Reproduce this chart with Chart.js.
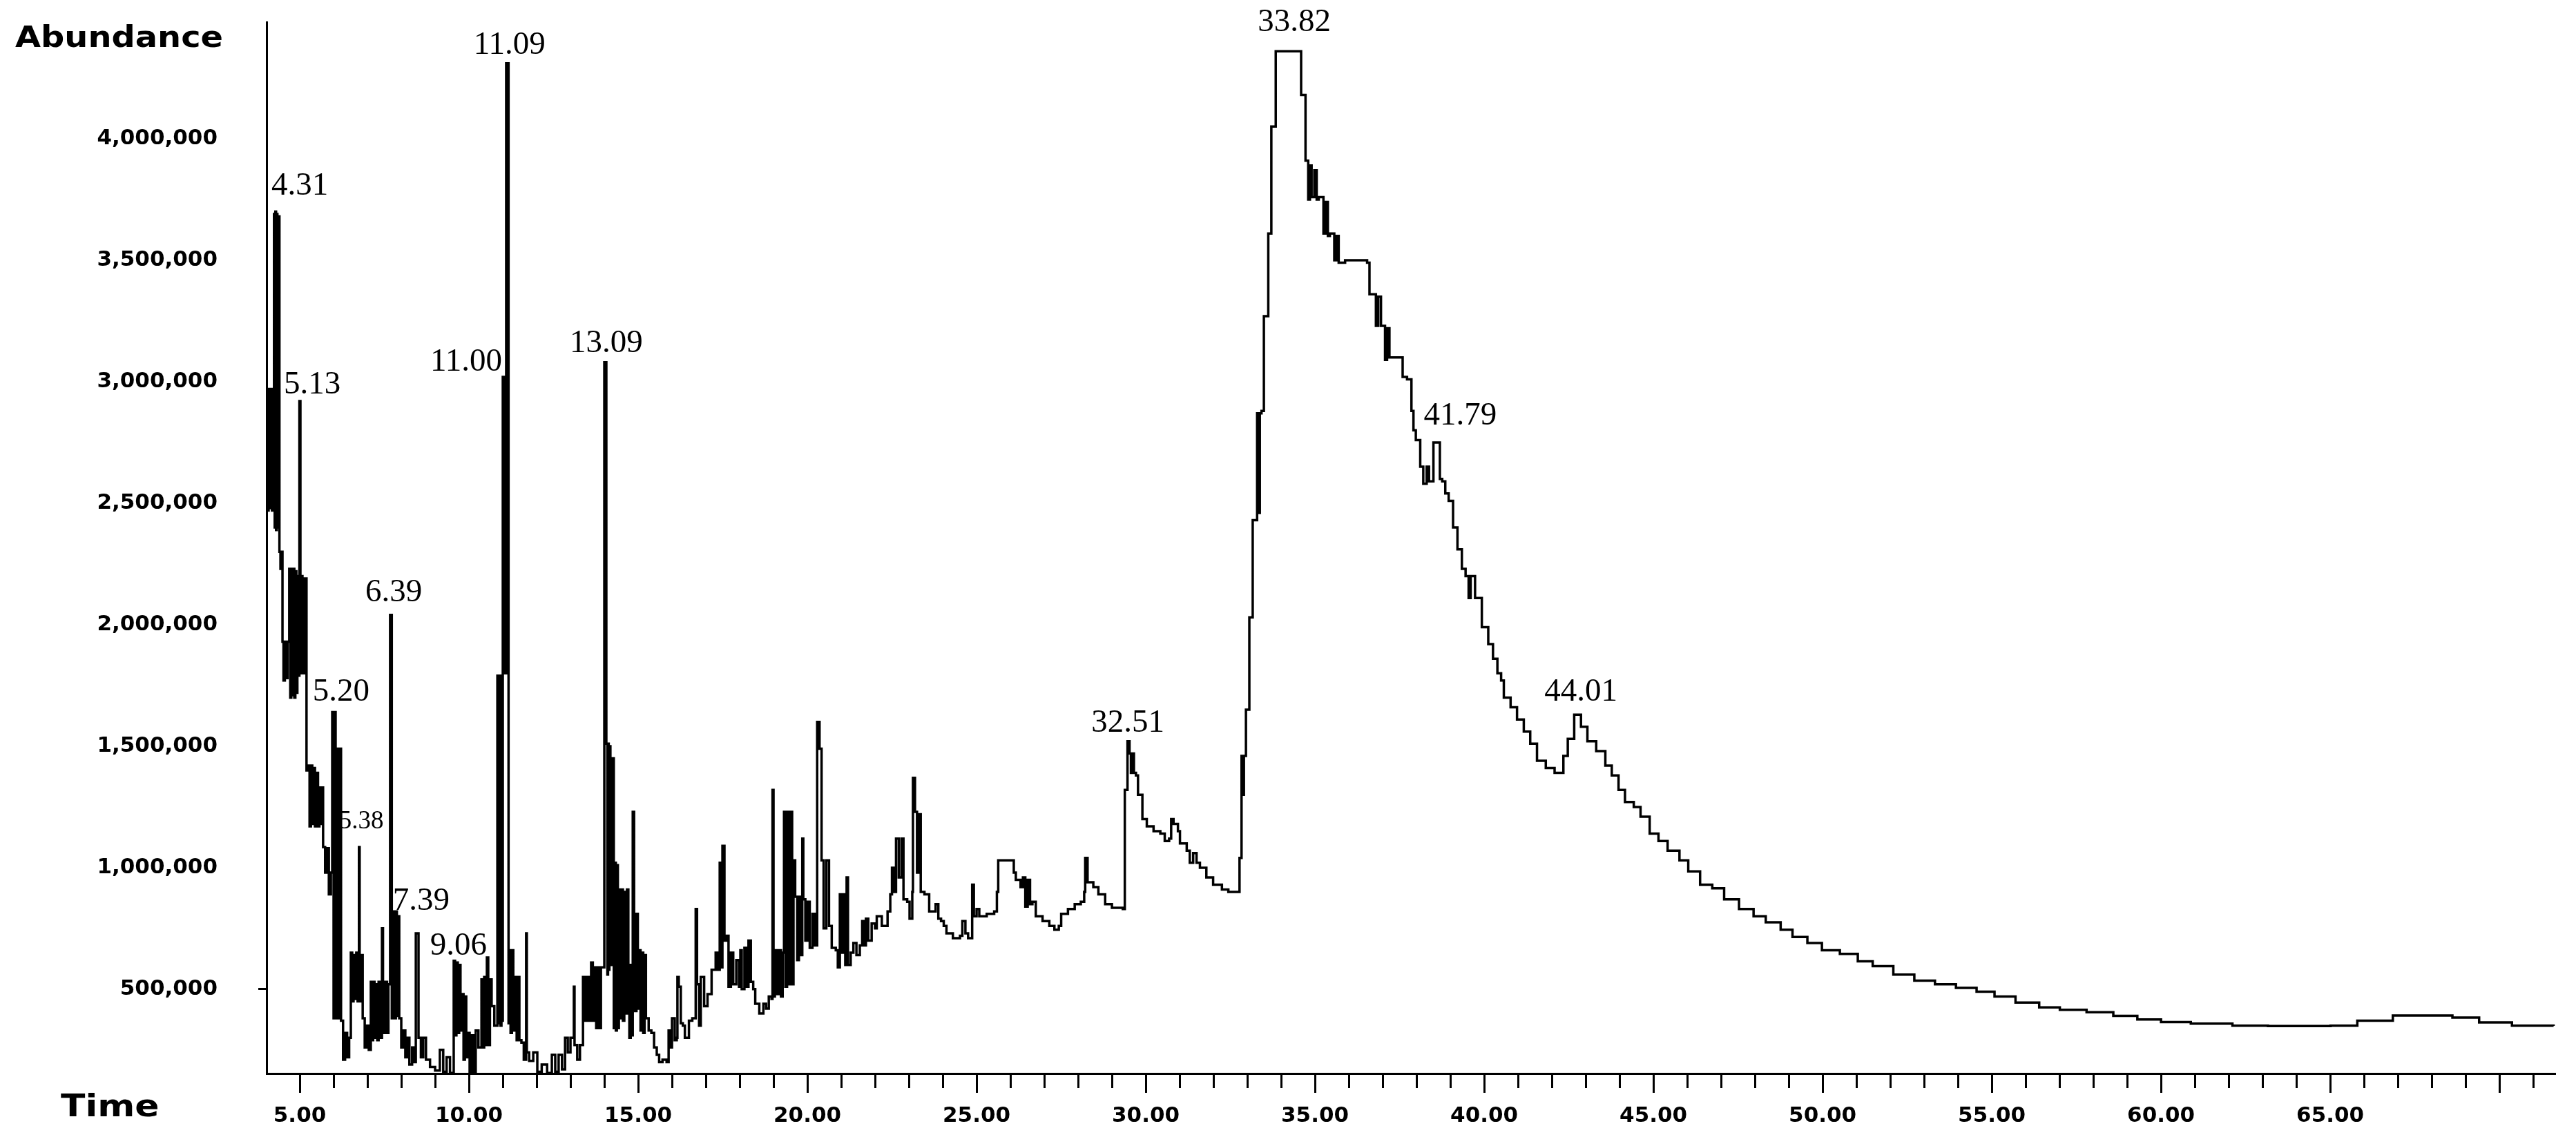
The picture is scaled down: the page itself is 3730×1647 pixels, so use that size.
<!DOCTYPE html>
<html>
<head>
<meta charset="utf-8">
<script src="https://cdn.jsdelivr.net/npm/chart.js@4.4.1/dist/chart.umd.min.js"></script>
<style>
html,body{margin:0;padding:0;background:#fff;}
#wrap{width:3730px;height:1647px;position:relative;}
</style>
</head>
<body>
<div id="wrap"><canvas id="c"></canvas></div>
<script>
// Retention time (min)
const retentionTime = [
4.02,4.04,4.06,4.08,4.10,4.12,4.14,4.16,4.18,4.20,
4.22,4.24,4.26,4.28,4.30,4.32,4.34,4.37,4.40,4.43,
4.46,4.49,4.52,4.56,4.60,4.64,4.69,4.72,4.75,4.78,
4.81,4.84,4.87,4.90,4.93,4.96,4.99,5.02,5.05,5.08,
5.11,5.14,5.17,5.20,5.24,5.29,5.33,5.37,5.41,5.45,
5.51,5.54,5.58,5.62,5.66,5.69,5.75,5.80,5.86,5.92,
5.96,6.00,6.03,6.06,6.10,6.14,6.18,
6.22,6.28,6.34,6.40,6.46,6.51,6.55,6.59,
6.63,6.67,6.71,6.75,6.77,6.81,6.86,6.92,6.98,7.04,
7.10,7.13,7.17,7.21,7.25,7.29,7.33,7.37,7.43,7.46,
7.50,7.54,7.58,7.62,7.67,7.72,7.78,7.81,7.84,7.87,7.90,
7.94,8.00,8.06,8.12,8.18,8.24,8.32,8.39,8.43,8.51,
8.58,8.65,8.73,8.85,9.00,9.14,9.24,9.34,9.44,9.55,
9.59,9.63,9.67,9.71,9.75,9.80,9.84,9.88,9.92,9.96,
10.02,10.08,10.14,10.20,10.28,10.37,10.41,10.45,10.49,10.53,
10.57,10.62,10.67,10.75,10.84,10.87,10.90,10.93,10.96,10.99,
11.00,11.03,11.05,11.08,11.10,11.17,11.19,11.23,11.27,11.31,11.37,11.41,11.45,11.49,
11.55,11.62,11.69,11.71,11.78,11.90,12.02,12.15,12.31,12.45,
12.55,12.65,12.75,12.84,12.92,13.00,13.10,13.12,13.20,13.28,
13.37,13.41,13.45,13.49,13.53,13.57,13.61,13.66,13.71,13.76,
13.81,13.86,13.90,14.00,14.06,14.09,14.11,14.13,14.15,14.18,
14.20,14.23,14.26,14.28,14.31,14.34,14.37,14.40,14.43,14.47,
14.51,14.55,14.59,14.63,14.67,14.71,14.74,14.78,14.81,14.84,
14.88,14.91,14.95,14.99,15.03,15.07,15.11,15.15,15.19,15.23,
15.31,15.39,15.47,15.55,15.62,15.72,15.84,15.90,15.95,16.00,
16.08,16.14,16.16,16.20,16.26,16.32,16.38,16.50,16.60,16.70,
16.74,16.80,16.85,16.95,17.05,17.17,17.29,17.35,17.41,17.45,
17.49,17.55,17.61,17.67,17.74,17.81,17.90,17.98,18.02,18.06,
18.14,18.20,18.26,18.33,18.40,18.46,18.58,18.70,18.78,18.86,
18.94,18.97,19.00,19.04,19.10,19.16,19.22,19.27,19.31,19.35,
19.40,19.45,19.50,19.55,19.59,19.64,19.70,19.75,19.80,19.85,
19.88,19.94,20.00,20.07,20.15,20.22,20.29,20.36,20.42,20.48,
20.56,20.64,20.72,20.84,20.90,20.96,21.01,21.06,21.12,21.16,
21.20,21.28,21.36,21.45,21.55,21.62,21.68,21.73,21.80,21.90,
22.00,22.05,22.20,22.37,22.45,22.50,22.57,22.62,22.70,22.78,
22.84,22.95,23.02,23.10,23.12,23.18,23.24,23.30,23.35,23.46,
23.60,23.79,23.87,23.95,24.03,24.11,24.30,24.51,24.58,24.67,
24.75,24.87,24.92,25.00,25.08,25.30,25.52,25.60,25.64,25.90,
26.10,26.16,26.30,26.37,26.44,26.51,26.58,26.65,26.75,26.95,
27.15,27.30,27.43,27.50,27.70,27.90,28.08,28.18,28.21,28.28,
28.45,28.60,28.80,29.00,29.32,29.38,29.46,29.52,29.56,29.60,
29.65,29.71,29.77,29.90,30.03,30.23,30.43,30.56,30.69,30.75,
30.82,30.95,31.01,31.21,31.30,31.40,31.50,31.60,31.79,31.99,
32.25,32.44,32.64,32.77,32.83,32.86,32.90,32.96,33.06,33.16,
33.29,33.33,33.37,33.42,33.49,33.62,33.71,33.84,34.59,34.72,
34.80,34.85,34.90,34.98,35.05,35.11,35.25,35.31,35.38,35.44,
35.57,35.63,35.70,35.89,36.54,36.61,36.74,36.80,36.87,36.95,
37.07,37.13,37.20,37.39,37.59,37.72,37.85,37.91,37.98,38.11,
38.20,38.30,38.37,38.50,38.59,38.69,38.76,38.85,38.95,39.08,
39.21,39.34,39.45,39.54,39.60,39.73,39.93,40.12,40.26,40.39,
40.50,40.58,40.78,40.97,41.17,41.36,41.56,41.82,42.08,42.34,
42.47,42.66,42.86,43.05,43.31,43.58,43.77,43.97,44.16,44.42,
44.62,44.89,45.15,45.42,45.77,46.03,46.38,46.74,47.09,47.53,
47.96,48.32,48.76,49.11,49.55,49.98,50.51,51.04,51.48,52.09,
52.71,53.32,53.94,54.55,55.08,55.70,56.40,57.01,57.80,58.59,
59.30,60.00,60.88,62.11,63.16,65.01,65.80,66.85,67.56,68.61,
69.40,70.37,71.60
];

// Abundance (counts)
const abundance = [
2480e3,2960e3,2470e3,2970e3,2480e3,2960e3,2490e3,2970e3,2470e3,2960e3,
2480e3,3690e3,2400e3,3700e3,2390e3,3690e3,2400e3,3680e3,2300e3,2230e3,
2300e3,1930e3,1770e3,1930e3,1780e3,1930e3,2230e3,1700e3,2230e3,1710e3,
2230e3,1700e3,2220e3,1720e3,2200e3,1790e3,2920e3,1800e3,2200e3,1800e3,
2190e3,1800e3,2190e3,1400e3,1420e3,1170e3,1420e3,1180e3,1410e3,1170e3,
1390e3,1170e3,1330e3,1180e3,1330e3,1085e3,980e3,1080e3,890e3,980e3,
1640e3,380e3,1640e3,380e3,1490e3,380e3,1490e3,
370e3,210e3,320e3,220e3,300e3,650e3,450e3,640e3,
460e3,650e3,450e3,1085e3,450e3,640e3,380e3,260e3,350e3,250e3,
530e3,290e3,530e3,300e3,520e3,290e3,530e3,300e3,750e3,530e3,
320e3,530e3,320e3,520e3,2040e3,380e3,820e3,380e3,820e3,390e3,800e3,
380e3,260e3,330e3,220e3,300e3,190e3,260e3,200e3,730e3,300e3,
220e3,300e3,210e3,180e3,165e3,250e3,160e3,220e3,155e3,617e3,
310e3,610e3,320e3,600e3,330e3,480e3,210e3,470e3,220e3,320e3,
155e3,310e3,160e3,330e3,260e3,540e3,260e3,550e3,270e3,630e3,
270e3,540e3,430e3,350e3,1790e3,360e3,1790e3,350e3,1790e3,370e3,
3020e3,1800e3,3020e3,1800e3,4310e3,360e3,660e3,320e3,660e3,330e3,550e3,290e3,550e3,290e3,
280e3,210e3,730e3,240e3,205e3,240e3,160e3,190e3,155e3,230e3,
160e3,230e3,170e3,300e3,240e3,300e3,510e3,270e3,210e3,270e3,
550e3,370e3,550e3,370e3,550e3,370e3,610e3,370e3,590e3,340e3,
590e3,340e3,590e3,3080e3,1510e3,560e3,1510e3,580e3,1500e3,600e3,
1450e3,600e3,1450e3,340e3,1020e3,330e3,1010e3,340e3,910e3,380e3,
910e3,370e3,900e3,400e3,910e3,600e3,300e3,600e3,310e3,1230e3,
800e3,410e3,810e3,420e3,660e3,330e3,650e3,320e3,640e3,380e3,
330e3,320e3,260e3,230e3,200e3,210e3,200e3,330e3,260e3,380e3,
290e3,300e3,550e3,510e3,360e3,350e3,300e3,370e3,380e3,830e3,
520e3,350e3,550e3,430e3,480e3,580e3,650e3,580e3,1020e3,590e3,
1090e3,700e3,720e3,510e3,650e3,520e3,620e3,510e3,660e3,500e3,
670e3,510e3,700e3,530e3,500e3,440e3,400e3,440e3,420e3,470e3,
460e3,1320e3,470e3,660e3,480e3,660e3,470e3,650e3,1230e3,510e3,
1230e3,520e3,1230e3,520e3,1030e3,880e3,620e3,880e3,640e3,1120e3,
870e3,700e3,860e3,670e3,810e3,680e3,1600e3,1490e3,1030e3,750e3,
1030e3,760e3,670e3,660e3,590e3,890e3,650e3,890e3,600e3,960e3,
600e3,650e3,690e3,640e3,680e3,780e3,680e3,790e3,700e3,770e3,
750e3,800e3,760e3,820e3,890e3,1000e3,900e3,1120e3,960e3,1120e3,
870e3,860e3,790e3,900e3,1370e3,1230e3,980e3,1220e3,900e3,890e3,
820e3,850e3,790e3,780e3,760e3,730e3,710e3,720e3,780e3,730e3,
710e3,930e3,800e3,830e3,800e3,810e3,820e3,900e3,1030e3,1030e3,
980e3,950e3,920e3,960e3,840e3,950e3,850e3,860e3,800e3,780e3,
760e3,745e3,760e3,810e3,830e3,850e3,860e3,900e3,1040e3,940e3,
920e3,890e3,850e3,835e3,830e3,1320e3,1520e3,1470e3,1390e3,1470e3,
1390e3,1380e3,1300e3,1200e3,1170e3,1150e3,1140e3,1110e3,1120e3,1200e3,
1180e3,1150e3,1100e3,1070e3,1020e3,1060e3,1020e3,1000e3,960e3,930e3,
910e3,900e3,900e3,1040e3,1460e3,1300e3,1460e3,1650e3,2030e3,2430e3,
2870e3,2460e3,2870e3,2880e3,3270e3,3610e3,4050e3,4360e3,4180e3,3910e3,
3750e3,3890e3,3760e3,3870e3,3750e3,3760e3,3610e3,3740e3,3600e3,3610e3,
3500e3,3600e3,3490e3,3500e3,3490e3,3360e3,3360e3,3230e3,3350e3,3230e3,
3090e3,3220e3,3100e3,3100e3,3020e3,3010e3,2880e3,2800e3,2760e3,2650e3,
2580e3,2650e3,2590e3,2750e3,2750e3,2600e3,2590e3,2540e3,2510e3,2400e3,
2310e3,2230e3,2200e3,2110e3,2200e3,2110e3,1990e3,1920e3,1860e3,1800e3,
1770e3,1700e3,1660e3,1610e3,1560e3,1510e3,1440e3,1410e3,1390e3,1460e3,
1530e3,1630e3,1580e3,1520e3,1480e3,1420e3,1380e3,1320e3,1270e3,1250e3,
1210e3,1140e3,1110e3,1070e3,1030e3,985e3,930e3,915e3,870e3,830e3,
800e3,775e3,745e3,715e3,690e3,660e3,645e3,615e3,595e3,560e3,
535e3,520e3,505e3,490e3,470e3,445e3,425e3,415e3,405e3,390e3,
375e3,365e3,358e3,350e3,348e3,350e3,370e3,392e3,392e3,383e3,
363e3,350e3,349e3
];

// Peak annotations
const peakLabels = ['4.31','5.13','11.09','11.00','13.09','6.39','5.20','5.38','7.39','9.06','32.51','33.82','41.79','44.01'];
const peakLabelTime = [5.00,5.37,11.20,9.92,14.06,7.78,6.22,6.82,8.59,9.69,29.47,34.39,39.29,42.86];
const peakLabelAbundance = [3804e3,2986e3,4384e3,3080e3,3156e3,2131e3,1722e3,1188e3,861e3,676e3,1594e3,4477e3,2858e3,1722e3];

// Axis ticks
const yTickValues = [500000,1000000,1500000,2000000,2500000,3000000,3500000,4000000];
const xMajorTicks = [5,10,15,20,25,30,35,40,45,50,55,60,65,70];
const xTickLabels = ['5.00','10.00','15.00','20.00','25.00','30.00','35.00','40.00','45.00','50.00','55.00','60.00','65.00'];
const xMinorTicks = [6,7,8,9,11,12,13,14,16,17,18,19,21,22,23,24,26,27,28,29,31,32,33,34,36,37,38,39,41,42,43,44,46,47,48,49,51,52,53,54,56,57,58,59,61,62,63,64,66,67,68,69,71];

const points = retentionTime.map((t, i) => ({ x: t, y: abundance[i] }));

const labelPlugin = {
  id: 'peakLabels',
  beforeDatasetsDraw(chart) {
    const ctx = chart.ctx, xs = chart.scales.x, ys = chart.scales.y;
    ctx.save();
    ctx.fillStyle = '#000';
    ctx.textAlign = 'center';
    ctx.textBaseline = 'middle';
    peakLabels.forEach((txt, i) => {
      const size = txt === '5.38' ? 37 : 47;
      ctx.font = size + 'px "Liberation Serif", "Times New Roman", serif';
      ctx.fillText(txt, xs.getPixelForValue(peakLabelTime[i]), ys.getPixelForValue(peakLabelAbundance[i]));
    });
    ctx.restore();
  },
  afterDraw(chart) {
    const ctx = chart.ctx, xs = chart.scales.x;
    const y0 = chart.chartArea.bottom;
    ctx.save();
    ctx.strokeStyle = '#000';
    ctx.lineWidth = 3;
    ctx.beginPath();
    xMinorTicks.forEach(v => {
      const px = Math.round(xs.getPixelForValue(v)) + 0.5;
      ctx.moveTo(px, y0);
      ctx.lineTo(px, y0 + 21);
    });
    ctx.stroke();
    // axis titles
    ctx.fillStyle = '#000';
    ctx.textBaseline = 'middle';
    ctx.textAlign = 'left';
    ctx.font = 'bold 42px "DejaVu Sans", sans-serif';
    ctx.save(); ctx.translate(22, 57); ctx.scale(1.14, 1); ctx.fillText('Abundance', 0, 0); ctx.restore();
    ctx.font = 'bold 44px "DejaVu Sans", sans-serif';
    ctx.save(); ctx.translate(88, 1606); ctx.scale(1.18, 1); ctx.fillText('Time', 0, 0); ctx.restore();
    ctx.restore();
  }
};

new Chart(document.getElementById('c'), {
  type: 'line',
  data: {
    datasets: [{
      data: points,
      borderColor: '#000',
      borderWidth: 3.5,
      pointRadius: 0,
      stepped: true,
      fill: false,
      tension: 0,
      borderJoinStyle: 'miter',
      borderCapStyle: 'butt'
    }]
  },
  options: {
    responsive: true,
    maintainAspectRatio: false,
    animation: false,
    devicePixelRatio: 1,
    layout: { padding: { top: 32, right: 30, left: 0, bottom: 0 } },
    plugins: { legend: { display: false }, tooltip: { enabled: false } },
    scales: {
      x: {
        type: 'linear',
        min: 4.02,
        max: 71.65,
        afterBuildTicks: s => { s.ticks = xMajorTicks.map(v => ({ value: v })); },
        afterFit: s => { s.height = 92; s.paddingLeft = 0; s.paddingRight = 0; },
        ticks: {
          autoSkip: false, maxRotation: 0, minRotation: 0,
          color: '#000',
          padding: 15,
          font: { family: '"DejaVu Sans", sans-serif', weight: 'bold', size: 31 },
          callback: (v, i) => (i < xTickLabels.length ? xTickLabels[i] : '')
        },
        grid: { display: true, drawOnChartArea: false, drawTicks: true, tickLength: 28, tickWidth: 3, tickColor: '#000' },
        border: { display: true, color: '#000', width: 3 }
      },
      y: {
        type: 'linear',
        min: 153000,
        max: 4480000,
        afterBuildTicks: s => { s.ticks = yTickValues.map(v => ({ value: v })); },
        afterFit: s => { s.width = 386; s.paddingTop = 0; s.paddingBottom = 0; },
        ticks: {
          color: '#000',
          padding: 59,
          font: { family: '"DejaVu Sans", sans-serif', weight: 'bold', size: 31 },
          callback: v => Number(v).toLocaleString('en-US')
        },
        grid: {
          display: true, drawOnChartArea: false, drawTicks: true, tickLength: 12, tickWidth: 3,
          tickColor: c => (c.tick && c.tick.value === 500000) ? '#000' : 'rgba(0,0,0,0)'
        },
        border: { display: true, color: '#000', width: 3 }
      }
    }
  },
  plugins: [labelPlugin]
});
</script>
</body>
</html>
